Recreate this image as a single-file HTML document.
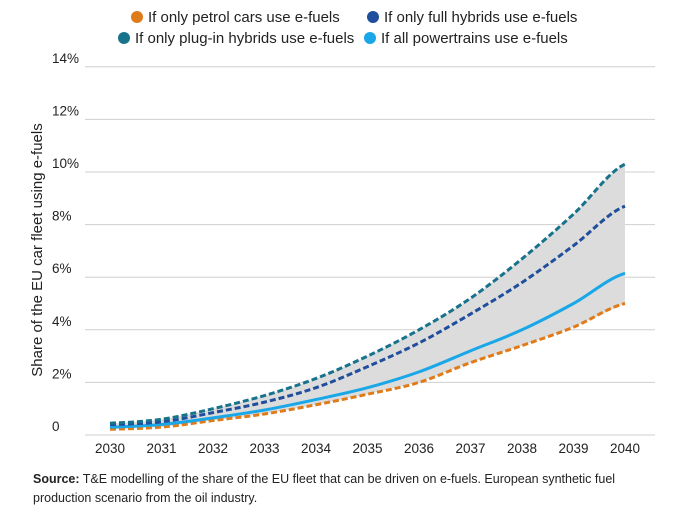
<!DOCTYPE html>
<html><head><meta charset="utf-8"><style>
body{margin:0;width:678px;height:512px;background:#fff;font-family:"Liberation Sans",sans-serif;overflow:hidden}
</style></head><body>
<svg width="678" height="512" id="c" font-family="Liberation Sans, sans-serif"></svg>
<script>
const years=[2030,2031,2032,2033,2034,2035,2036,2037,2038,2039,2040];
const plugin=[0.45,0.6,1.0,1.5,2.15,3.0,4.0,5.2,6.7,8.4,10.3];
const hybrid=[0.4,0.5,0.85,1.25,1.8,2.6,3.5,4.6,5.8,7.2,8.7];
const allp=[0.3,0.4,0.65,0.95,1.35,1.8,2.4,3.2,4.0,5.0,6.15];
const petrol=[0.22,0.3,0.55,0.8,1.15,1.55,2.0,2.75,3.4,4.1,5.0];
const yTicks=[0,2,4,6,8,10,12,14];
const NS="http://www.w3.org/2000/svg",svg=document.getElementById('c');
const x=i=>110+i*51.5, y=v=>435-v*26.3;
function mk(t,a,p){const e=document.createElementNS(NS,t);for(const k in a)e.setAttribute(k,a[k]);(p||svg).appendChild(e);return e;}
yTicks.forEach(v=>{
 const g=mk('line',{x1:85,x2:655,y1:y(v),y2:y(v),stroke:'#cfcfcf','stroke-width':1});
 
 
 const t=mk('text',{x:52,y:y(v)-4,'font-size':13.5,fill:'#222'});t.textContent=v===0?'0':v+'%';
 
 
});
years.forEach((yr,i)=>{const t=mk('text',{x:x(i),y:453,'font-size':13.5,fill:'#222','text-anchor':'middle'});t.textContent=yr;
 
 });
function curve(arr){let d='';arr.forEach((v,i)=>{const px=x(i),py=y(v);if(i===0)d+=`M${px},${py}`;else{const pp=x(i-1),pv=y(arr[i-1]);const a0=i>1?arr[i-2]:arr[i-1],a3=i<arr.length-1?arr[i+1]:v;const c1y=pv+(py-y(a0))/6,c2y=py-(y(a3)-pv)/6;d+=` C${pp+17.17},${c1y} ${px-17.17},${c2y} ${px},${py}`;}});return d;}
function rev(arr){const r=arr.slice().reverse();let d='';r.forEach((v,k)=>{const i=arr.length-1-k;d+=` L${x(i)},${y(v)}`;});return d;}
const band=mk('path',{d:curve(plugin)+rev(petrol)+'Z',fill:'#dcdcdc'});


[[petrol,'#e07b1a','6 3','petrol-line'],[allp,'#1aa7e8','','all-powertrains-line'],[hybrid,'#1f4e9c','6 3','full-hybrid-line'],[plugin,'#17728c','6 3','plugin-hybrid-line']].forEach(s=>{
 const p=mk('path',{d:curve(s[0]),fill:'none',stroke:s[1],'stroke-width':3,'stroke-dasharray':s[2]});
 
 
});
const yt=mk('text',{transform:'translate(42,250) rotate(-90)','text-anchor':'middle','font-size':15,fill:'#222'});yt.textContent='Share of the EU car fleet using e-fuels';


[[137,17,'#e07b1a','If only petrol cars use e-fuels'],[373,17,'#1f4e9c','If only full hybrids use e-fuels'],[124,38,'#17728c','If only plug-in hybrids use e-fuels'],[370,38,'#1aa7e8','If all powertrains use e-fuels']].forEach(l=>{
 const g=mk('g',{});
 
 
 mk('circle',{cx:l[0],cy:l[1],r:6,fill:l[2]},g);
 const t=mk('text',{x:l[0]+11,y:l[1]+5,'font-size':15,fill:'#222'},g);t.textContent=l[3];
});
</script>
<div style="position:absolute;left:33px;top:470px;width:640px;font-size:12.5px;line-height:19px;color:#222"><b>Source:</b> T&amp;E modelling of the share of the EU fleet that can be driven on e-fuels. European synthetic fuel production scenario from the oil industry.</div>
</body></html>
